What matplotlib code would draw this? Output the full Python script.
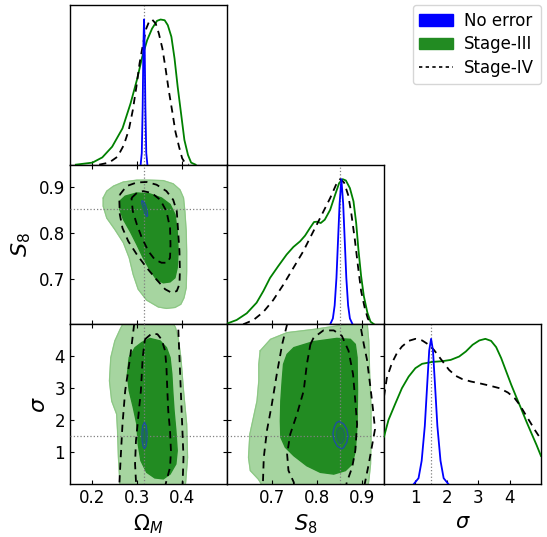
import matplotlib
matplotlib.use("Agg")
import matplotlib.pyplot as plt
from matplotlib.patches import Patch
from matplotlib.lines import Line2D

# ---------------- parameters ----------------
param_labels = [r"$\Omega_M$", r"$S_8$", r"$\sigma$"]
param_limits = [(0.15, 0.5), (0.6, 0.95), (0.0, 5.0)]
param_ticks = [[0.2, 0.3, 0.4], [0.7, 0.8, 0.9], [1, 2, 3, 4]]
param_ticklabels = [["0.2", "0.3", "0.4"], ["0.7", "0.8", "0.9"], ["1", "2", "3", "4"]]
truth = [0.315, 0.853, 1.5]

series_names = ["No error", "Stage-III", "Stage-IV"]

# ---------------- 1D marginals (normalised to peak = 1) ----------------
om_green_x = [0.163, 0.200, 0.222, 0.244, 0.267, 0.285, 0.300, 0.311, 0.322, 0.333, 0.344,
              0.352, 0.361, 0.368, 0.376, 0.383, 0.390, 0.398, 0.405, 0.413, 0.420, 0.430]
om_green_y = [0.0, 0.014, 0.050, 0.124, 0.250, 0.422, 0.594, 0.743, 0.858, 0.938, 0.991,
              1.0, 0.995, 0.961, 0.881, 0.732, 0.537, 0.342, 0.170, 0.067, 0.014, 0.0]
om_black_x = [0.215, 0.237, 0.256, 0.270, 0.281, 0.290, 0.298, 0.305, 0.313, 0.320, 0.327,
              0.333, 0.341, 0.348, 0.356, 0.363, 0.370, 0.378, 0.385, 0.393, 0.400, 0.407, 0.415]
om_black_y = [0.0, 0.014, 0.055, 0.135, 0.239, 0.376, 0.537, 0.697, 0.835, 0.938, 0.991,
              1.0, 0.972, 0.904, 0.800, 0.663, 0.514, 0.365, 0.227, 0.124, 0.044, 0.009, 0.0]
om_blue_x = [0.3075, 0.310, 0.312, 0.3135, 0.315, 0.3165, 0.318, 0.320, 0.3225]
om_blue_y = [0.0, 0.08, 0.4, 0.8, 1.0, 0.8, 0.4, 0.08, 0.0]

s8_green_x = [0.600, 0.6215, 0.644, 0.666, 0.681, 0.696, 0.714, 0.733, 0.748, 0.763, 0.774,
              0.785, 0.794, 0.801, 0.809, 0.818, 0.830, 0.841, 0.850, 0.858, 0.865, 0.874,
              0.882, 0.888, 0.893, 0.899, 0.905, 0.913, 0.920, 0.928]
s8_green_y = [0.005, 0.030, 0.076, 0.149, 0.229, 0.320, 0.400, 0.481, 0.533, 0.572, 0.611,
              0.664, 0.705, 0.707, 0.698, 0.721, 0.789, 0.892, 0.973, 1.0, 0.991, 0.938,
              0.847, 0.698, 0.515, 0.332, 0.195, 0.080, 0.018, 0.0]
s8_black_x = [0.636, 0.659, 0.681, 0.703, 0.726, 0.748, 0.770, 0.785, 0.800, 0.815, 0.830,
              0.843, 0.852, 0.861, 0.870, 0.877, 0.885, 0.892, 0.899, 0.907, 0.914, 0.922]
s8_black_y = [0.0, 0.030, 0.085, 0.167, 0.275, 0.389, 0.503, 0.595, 0.686, 0.778, 0.870,
              0.961, 1.0, 0.977, 0.892, 0.767, 0.584, 0.400, 0.229, 0.114, 0.039, 0.005]
s8_blue_x = [0.830, 0.836, 0.840, 0.844, 0.847, 0.851, 0.855, 0.859, 0.863, 0.866, 0.870, 0.874, 0.880]
s8_blue_y = [0.0, 0.04, 0.13, 0.32, 0.54, 0.83, 1.0, 0.83, 0.54, 0.32, 0.13, 0.04, 0.0]

sig_green_x = [0.0, 0.143, 0.357, 0.571, 0.786, 1.0, 1.214, 1.536, 1.857, 2.125, 2.393, 2.608,
               2.822, 3.036, 3.229, 3.411, 3.572, 3.733, 3.893, 4.054, 4.215, 4.376, 4.536,
               4.697, 4.858, 5.0]
sig_green_y = [0.326, 0.441, 0.552, 0.660, 0.740, 0.798, 0.828, 0.841, 0.846, 0.855, 0.878,
               0.913, 0.959, 0.989, 1.0, 0.986, 0.943, 0.867, 0.775, 0.683, 0.598, 0.515,
               0.430, 0.349, 0.269, 0.193]
sig_black_x = [0.0, 0.089, 0.25, 0.41, 0.571, 0.786, 1.0, 1.214, 1.429, 1.59, 1.75, 1.911, 2.072,
               2.286, 2.501, 2.769, 3.036, 3.358, 3.679, 3.947, 4.162, 4.323, 4.483, 4.644,
               4.805, 5.0]
sig_black_y = [0.602, 0.729, 0.832, 0.901, 0.947, 0.986, 1.0, 0.989, 0.959, 0.924, 0.878, 0.832,
               0.786, 0.745, 0.722, 0.706, 0.694, 0.678, 0.660, 0.630, 0.591, 0.545, 0.487,
               0.430, 0.372, 0.308]
sig_blue_x = [0.95, 1.10, 1.20, 1.30, 1.38, 1.44, 1.50, 1.56, 1.62, 1.70, 1.80, 1.90, 2.05]
sig_blue_y = [0.0, 0.04, 0.16, 0.40, 0.70, 0.92, 1.0, 0.92, 0.70, 0.40, 0.16, 0.04, 0.0]

# ---------------- 2D contours: (x, y) vertices ----------------
# Omega_M vs S8
om_s8_green95 = [(0.224, 0.877), (0.232, 0.892), (0.247, 0.903), (0.269, 0.912), (0.299, 0.916),
                 (0.328, 0.916), (0.358, 0.915), (0.380, 0.908), (0.395, 0.895), (0.403, 0.877),
                 (0.406, 0.848), (0.409, 0.804), (0.410, 0.760), (0.410, 0.717), (0.409, 0.680),
                 (0.404, 0.658), (0.397, 0.644), (0.384, 0.637), (0.365, 0.635), (0.347, 0.638),
                 (0.321, 0.653), (0.302, 0.677), (0.291, 0.709), (0.282, 0.746), (0.269, 0.779),
                 (0.250, 0.808), (0.232, 0.833), (0.224, 0.859)]
om_s8_green68 = [(0.261, 0.870), (0.273, 0.881), (0.299, 0.888), (0.328, 0.886), (0.354, 0.877),
                 (0.373, 0.863), (0.384, 0.841), (0.389, 0.804), (0.391, 0.760), (0.389, 0.724),
                 (0.384, 0.702), (0.373, 0.693), (0.358, 0.691), (0.343, 0.698), (0.328, 0.720),
                 (0.313, 0.746), (0.299, 0.775), (0.284, 0.804), (0.269, 0.830), (0.261, 0.852)]
om_s8_black95 = [(0.261, 0.884), (0.276, 0.903), (0.299, 0.911), (0.321, 0.912), (0.343, 0.906),
                 (0.365, 0.892), (0.380, 0.873), (0.388, 0.848), (0.391, 0.804), (0.394, 0.760),
                 (0.395, 0.717), (0.394, 0.688), (0.388, 0.673), (0.377, 0.669), (0.362, 0.677),
                 (0.343, 0.698), (0.321, 0.724), (0.299, 0.753), (0.280, 0.782), (0.267, 0.811),
                 (0.261, 0.841), (0.260, 0.870)]
om_s8_black68 = [(0.287, 0.877), (0.299, 0.888), (0.313, 0.892), (0.332, 0.888), (0.351, 0.873),
                 (0.365, 0.848), (0.373, 0.811), (0.374, 0.775), (0.373, 0.746), (0.367, 0.735),
                 (0.354, 0.735), (0.339, 0.742), (0.325, 0.760), (0.310, 0.790), (0.299, 0.819),
                 (0.290, 0.848)]
om_s8_blue95 = [(0.311, 0.870), (0.314, 0.869), (0.318, 0.862), (0.322, 0.848), (0.323, 0.838),
                (0.321, 0.836), (0.317, 0.843), (0.313, 0.856), (0.310, 0.866)]
om_s8_blue68 = [(0.313, 0.864), (0.316, 0.860), (0.320, 0.846), (0.3195, 0.842), (0.316, 0.849),
                (0.313, 0.860)]

# Omega_M vs sigma
om_sig_green95 = [(0.300, 5.5), (0.360, 5.5), (0.385, 4.9), (0.391, 4.58), (0.397, 3.96),
                  (0.403, 2.92), (0.410, 1.875), (0.412, 0.83), (0.408, 0.10), (0.405, -0.3),
                  (0.262, -0.3), (0.261, 0.10), (0.258, 0.83), (0.256, 1.67), (0.254, 2.19),
                  (0.243, 2.60), (0.238, 3.23), (0.241, 3.96), (0.250, 4.48), (0.262, 4.85),
                  (0.275, 5.2)]
om_sig_green68 = [(0.310, 4.43), (0.328, 4.56), (0.351, 4.48), (0.365, 4.27), (0.373, 3.96),
                  (0.377, 3.44), (0.379, 2.92), (0.382, 2.29), (0.386, 1.67), (0.389, 1.04),
                  (0.386, 0.625), (0.373, 0.31), (0.358, 0.16), (0.339, 0.19), (0.321, 0.365),
                  (0.308, 0.73), (0.302, 1.25), (0.299, 1.875), (0.291, 2.40), (0.282, 2.92),
                  (0.278, 3.44), (0.282, 3.96), (0.295, 4.27)]
om_sig_black95 = [(0.293, 5.0), (0.284, 3.96), (0.273, 2.92), (0.267, 1.875), (0.263, 0.83),
                  (0.260, 0.0), (0.262, -0.5), (0.330, -0.8), (0.400, -0.5), (0.401, 0.0),
                  (0.403, 0.83), (0.400, 1.875), (0.397, 2.92), (0.394, 3.96), (0.391, 5.0),
                  (0.385, 5.5), (0.340, 5.8), (0.300, 5.5)]
om_sig_black68 = [(0.317, 4.53), (0.332, 4.71), (0.345, 4.69), (0.354, 4.53), (0.362, 4.17),
                  (0.365, 3.65), (0.367, 2.92), (0.369, 2.29), (0.373, 1.67), (0.375, 1.04),
                  (0.373, 0.52), (0.365, 0.10), (0.358, -0.3), (0.300, -0.3), (0.297, 0.10),
                  (0.295, 0.625), (0.297, 1.35), (0.302, 2.08), (0.308, 2.92), (0.312, 3.96)]
om_sig_blue95 = [(0.316, 1.92), (0.320, 1.82), (0.3215, 1.6), (0.3212, 1.35), (0.319, 1.18),
                 (0.316, 1.11), (0.313, 1.18), (0.3108, 1.35), (0.3105, 1.6), (0.312, 1.82)]
om_sig_blue68 = [(0.316, 1.75), (0.3185, 1.66), (0.319, 1.5), (0.3185, 1.34), (0.316, 1.27),
                 (0.3135, 1.34), (0.313, 1.5), (0.3135, 1.66)]

# S8 vs sigma
s8_sig_green95 = [(0.674, 4.17), (0.697, 4.53), (0.734, 4.74), (0.793, 4.84), (0.845, 4.95),
                  (0.890, 5.05), (0.912, 5.1), (0.916, 4.48), (0.918, 3.44), (0.921, 2.40),
                  (0.921, 1.35), (0.920, 0.625), (0.916, 0.10), (0.912, -0.3), (0.690, -0.3),
                  (0.670, 0.15), (0.652, 0.42), (0.648, 0.83), (0.651, 1.56), (0.659, 2.08),
                  (0.667, 2.60), (0.671, 3.23), (0.671, 3.75)]
s8_sig_green68 = [(0.734, 4.06), (0.749, 4.27), (0.793, 4.46), (0.845, 4.56), (0.875, 4.53),
                  (0.886, 4.375), (0.890, 3.96), (0.891, 2.92), (0.890, 1.875), (0.886, 1.04),
                  (0.879, 0.625), (0.864, 0.42), (0.838, 0.31), (0.808, 0.365), (0.778, 0.57),
                  (0.749, 0.885), (0.730, 1.15), (0.720, 1.46), (0.719, 1.98), (0.720, 2.60),
                  (0.723, 3.23), (0.726, 3.75)]
s8_sig_black95 = [(0.734, 5.0), (0.723, 4.375), (0.711, 3.44), (0.700, 2.5), (0.689, 1.67),
                  (0.682, 0.83), (0.680, 0.0), (0.685, -0.5), (0.800, -0.8), (0.900, -0.5),
                  (0.907, 0.0), (0.916, 0.625), (0.930, 1.72), (0.925, 2.40), (0.920, 3.0),
                  (0.912, 3.9), (0.905, 4.375), (0.897, 5.0), (0.880, 5.5), (0.800, 5.8),
                  (0.745, 5.5)]
s8_sig_black68 = [(0.786, 4.375), (0.793, 4.58), (0.815, 4.81), (0.838, 4.81), (0.856, 4.64),
                  (0.871, 4.17), (0.881, 3.44), (0.886, 2.60), (0.890, 1.875), (0.886, 1.04),
                  (0.879, 0.52), (0.867, 0.05), (0.860, -0.4), (0.750, -0.4), (0.749, 0.05),
                  (0.737, 0.42), (0.734, 0.94), (0.741, 1.56), (0.756, 2.19), (0.771, 2.92),
                  (0.778, 3.75)]
s8_sig_blue95 = [(0.850, 1.96), (0.860, 1.88), (0.867, 1.72), (0.870, 1.50), (0.867, 1.30),
                 (0.860, 1.14), (0.856, 1.10), (0.846, 1.18), (0.839, 1.36), (0.836, 1.58),
                 (0.839, 1.78), (0.844, 1.92)]
s8_sig_blue68 = [(0.851, 1.78), (0.858, 1.73), (0.862, 1.58), (0.862, 1.42), (0.857, 1.29),
                 (0.853, 1.26), (0.848, 1.32), (0.844, 1.46), (0.844, 1.62), (0.847, 1.74)]

marginals = [
    [(om_green_x, om_green_y), (om_black_x, om_black_y), (om_blue_x, om_blue_y)],
    [(s8_green_x, s8_green_y), (s8_black_x, s8_black_y), (s8_blue_x, s8_blue_y)],
    [(sig_green_x, sig_green_y), (sig_black_x, sig_black_y), (sig_blue_x, sig_blue_y)],
]
contours = {
    (1, 0): (om_s8_green95, om_s8_green68, om_s8_black95, om_s8_black68, om_s8_blue95, om_s8_blue68),
    (2, 0): (om_sig_green95, om_sig_green68, om_sig_black95, om_sig_black68, om_sig_blue95, om_sig_blue68),
    (2, 1): (s8_sig_green95, s8_sig_green68, s8_sig_black95, s8_sig_black68, s8_sig_blue95, s8_sig_blue68),
}

# ---------------- styles ----------------
c_blue = "#0000ff"
c_green_line = "#008000"
c_green_dark = "#228b22"
c_green_light = "#a6d5a0"
c_green_edge = "#8cc784"
c_blue_edge = "#1f4f9f"
c_blue_fill = "#1d7a36"

plt.rcParams["font.family"] = ["DejaVu Sans"]
plt.rcParams["mathtext.fontset"] = "dejavusans"

fig, axes = plt.subplots(3, 3, figsize=(5.47, 5.37), dpi=100)
fig.subplots_adjust(left=0.128, right=0.989, bottom=0.0987, top=0.9907, wspace=0, hspace=0)


def close(poly):
    xs = [p[0] for p in poly] + [poly[0][0]]
    ys = [p[1] for p in poly] + [poly[0][1]]
    return xs, ys


for i in range(3):
    for j in range(3):
        ax = axes[i, j]
        if j > i:
            ax.set_axis_off()
            continue
        for sp in ax.spines.values():
            sp.set_linewidth(1.0)
        ax.set_xlim(*param_limits[j])
        ax.set_xticks(param_ticks[j])
        if i == j:
            green, black, blue = marginals[i]
            ax.plot(green[0], green[1], color=c_green_line, lw=1.3, zorder=3)
            ax.plot(black[0], black[1], color="black", lw=1.3, ls=(0, (4, 3)), zorder=4)
            ax.plot(blue[0], blue[1], color=c_blue, lw=1.3, zorder=5)
            ax.axvline(truth[j], color="gray", ls=":", lw=0.9, zorder=2)
            ax.set_ylim(0, 1.1)
            ax.set_yticks([])
            ax.tick_params(axis="x", direction="in", top=False, bottom=True, length=3)
        else:
            g95, g68, b95, b68, u95, u68 = contours[(i, j)]
            x, y = close(g95)
            ax.fill(x, y, color=c_green_light, zorder=1)
            ax.plot(x, y, color=c_green_edge, lw=0.8, zorder=1)
            x, y = close(g68)
            ax.fill(x, y, color=c_green_dark, zorder=2)
            for poly in (b95, b68):
                x, y = close(poly)
                ax.plot(x, y, color="black", lw=1.3, ls=(0, (4, 3)), zorder=4)
            x, y = close(u95)
            ax.plot(x, y, color=c_blue_edge, lw=1.0, zorder=5)
            x, y = close(u68)
            ax.fill(x, y, color=c_blue_fill, zorder=5)
            ax.plot(x, y, color=c_blue_edge, lw=0.5, alpha=0.6, zorder=5)
            ax.axvline(truth[j], color="gray", ls=":", lw=0.9, zorder=3)
            ax.axhline(truth[i], color="gray", ls=":", lw=0.9, zorder=3)
            ax.set_ylim(*param_limits[i])
            ax.set_yticks(param_ticks[i])
            ax.tick_params(direction="in", top=True, right=True, length=3)
        # tick labels only on the outer edges
        if i == 2:
            ax.set_xticklabels(param_ticklabels[j], fontsize=12)
            ax.set_xlabel(param_labels[j], fontsize=15)
        else:
            ax.set_xticklabels([])
        if j == 0 and i > 0:
            ax.set_yticklabels(param_ticklabels[i], fontsize=12)
            ax.set_ylabel(param_labels[i], fontsize=16)
        elif i != j:
            ax.set_yticklabels([])

handles = [Patch(facecolor=c_blue, edgecolor=c_blue),
           Patch(facecolor=c_green_dark, edgecolor=c_green_dark),
           Line2D([0], [0], color="black", lw=1.2, ls=(0, (2, 2)))]
fig.legend(handles, series_names, loc="upper right", bbox_to_anchor=(0.989, 0.9907),
           borderaxespad=0.0, fontsize=12, frameon=True, handlelength=2.0,
           borderpad=0.4, labelspacing=0.35, handletextpad=0.7)

fig.savefig("out.png", dpi=100)
